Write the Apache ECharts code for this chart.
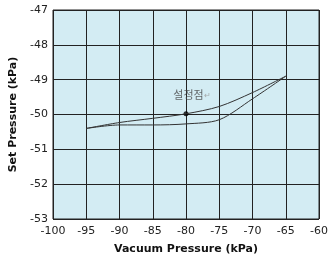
<!DOCTYPE html>
<html>
<head>
<meta charset="utf-8">
<script src="https://cdn.jsdelivr.net/npm/echarts@6/dist/echarts.min.js"></script>
<style>
html, body { margin: 0; padding: 0; background: #fff; }
#chart { width: 331px; height: 260px; }
</style>
</head>
<body>
<div id="chart"></div>
<script>
// 데이터
var vacuum = [-95, -90, -85, -80, -75, -70, -65];
var upperSet = [-50.40, -50.23, -50.11, -49.98, -49.77, -49.37, -48.90];
var lowerSet = [-50.40, -50.30, -50.30, -50.27, -50.15, -49.55, -48.90];
var setPoint = [-80, -49.98];
var setPointLabel = '설정점';

var upperData = vacuum.map(function (v, i) { return [v, upperSet[i]]; });
var lowerData = vacuum.map(function (v, i) { return [v, lowerSet[i]]; });

var myChart = echarts.init(document.getElementById('chart'));

var tickFont = { color: '#222', fontSize: 11, fontFamily: 'DejaVu Sans' };

var option = {
    backgroundColor: '#fff',
    animation: false,
    grid: {
        left: 49, right: 9, top: 10, bottom: 39,
        show: true,
        backgroundColor: '#d3ecf3',
        borderColor: '#222',
        borderWidth: 1
    },
    xAxis: {
        type: 'value',
        min: -100, max: -60, interval: 5,
        name: 'Vacuum Pressure (kPa)',
        nameLocation: 'middle',
        nameGap: 25,
        nameTextStyle: { color: '#111', fontSize: 11, fontWeight: 'bold', fontFamily: 'DejaVu Sans' },
        axisLine: { show: false },
        axisTick: { show: false },
        axisLabel: Object.assign({ margin: 7 }, tickFont),
        splitLine: { lineStyle: { color: '#222', width: 1 } }
    },
    yAxis: {
        type: 'value',
        min: -53, max: -47, interval: 1,
        name: 'Set Pressure (kPa)',
        nameLocation: 'middle',
        nameGap: 34,
        nameTextStyle: { color: '#111', fontSize: 11, fontWeight: 'bold', fontFamily: 'DejaVu Sans' },
        axisLine: { show: false },
        axisTick: { show: false },
        axisLabel: Object.assign({ margin: 5 }, tickFont),
        splitLine: { lineStyle: { color: '#222', width: 1 } }
    },
    series: [{
        type: 'line',
        data: upperData,
        smooth: 0.3,
        showSymbol: false,
        lineStyle: { color: '#333', width: 1 }
    }, {
        type: 'line',
        data: lowerData,
        smooth: 0.3,
        showSymbol: false,
        lineStyle: { color: '#333', width: 1 }
    }, {
        type: 'scatter',
        data: [setPoint],
        symbolSize: 5,
        itemStyle: { color: '#000' },
        label: {
            show: true,
            position: 'top',
            offset: [6, -6],
            formatter: function () { return setPointLabel + '{r|↵}'; },
            color: '#444',
            fontSize: 11,
            fontFamily: 'Noto Sans CJK KR',
            rich: { r: { color: '#999', fontSize: 8 } }
        }
    }]
};

myChart.setOption(option);
</script>
</body>
</html>
